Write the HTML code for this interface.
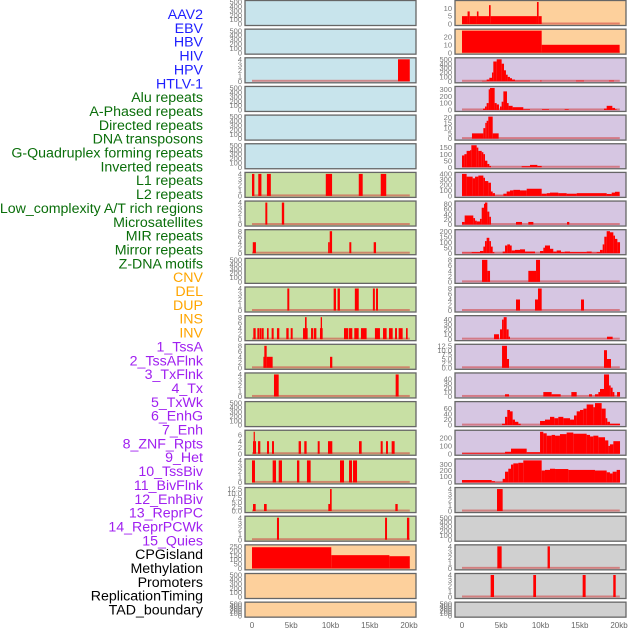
<!DOCTYPE html>
<html><head><meta charset="utf-8"><style>
html,body{margin:0;padding:0;background:#fff;width:630px;height:630px;overflow:hidden}
svg{display:block;font-family:"Liberation Sans",sans-serif}
</style></head><body>
<svg id="chart" width="630" height="630" viewBox="0 0 630 630"></svg>
<script>
const labels=["AAV2","EBV","HBV","HIV","HPV","HTLV-1","Alu repeats","A-Phased repeats","Directed repeats","DNA transposons","G-Quadruplex forming repeats","Inverted repeats","L1 repeats","L2 repeats","Low_complexity A/T rich regions","Microsatellites","MIR repeats","Mirror repeats","Z-DNA motifs","CNV","DEL","DUP","INS","INV","1_TssA","2_TssAFlnk","3_TxFlnk","4_Tx","5_TxWk","6_EnhG","7_Enh","8_ZNF_Rpts","9_Het","10_TssBiv","11_BivFlnk","12_EnhBiv","13_ReprPC","14_ReprPCWk","15_Quies","CPGisland","Methylation","Promoters","ReplicationTiming","TAD_boundary"];
const labelGroups=[0,0,0,0,0,0,1,1,1,1,1,1,1,1,1,1,1,1,1,2,2,2,2,2,3,3,3,3,3,3,3,3,3,3,3,3,3,3,3,4,4,4,4,4];
const xTicks=[0,5,10,15,20];
const xTickLabels=["0","5kb","10kb","15kb","20kb"];
const T500=[0,100,200,300,400,500], T4=[0,1,2,3,4], T8=[0,2,4,6,8], T6=[0,2,4,6], T125=[0,2.5,5,7.5,10,12.5];
const panelTicks=[T500,T500,T4,T500,T500,T500,T4,T4,T8,T500,T4,T8,T8,T4,T500,T6,T4,T125,T4,[0,50,100,150,200,250],T500,T500,
 [0,5,10],[0,10,20],T500,[0,100,200,300],[0,5,10,15,20],[0,50,100,150],[0,100,200,300,400],[0,20,40,60,80],[0,50,100,150,200],T8,T8,[0,10,20,30,40],T125,[0,10,20,30,40],[0,20,40,60],[0,100,200],[0,100,200,300],T4,T500,T4,T4,T500];
const panelSegments=[
 [],[],[[18.6,20.1,4]],[],[],[],
 [[0,0.3,4],[0.8,1.2,4],[1.9,2.4,4],[9.4,10.2,4],[13.6,14.1,4],[16.4,17.1,4]],
 [[1.7,1.95,4],[3.8,4.1,4]],
 [[0.1,0.5,4],[9.7,9.9,4],[9.9,10.2,8],[12.4,12.65,4],[15.5,15.8,4]],
 [],
 [[4.5,4.75,4],[10.4,10.7,4],[10.9,11.2,4],[13.1,13.6,4],[15.4,15.65,4],[15.8,16.05,4]],
 [[0.17,0.47,4],[0.68,0.93,4],[0.98,1.23,4],[1.27,1.49,4],[1.91,2.12,4],[2.5,2.76,4],[3.18,3.48,4],[4.37,4.67,4],[4.93,5.18,4],[6.5,7.09,4],[6.75,6.96,8],[7.52,7.77,4],[7.86,8.2,4],[8.66,9.0,4],[8.75,8.92,8],[11.72,12.27,4],[12.36,12.78,4],[13.03,13.59,4],[13.88,14.6,4],[15.66,16.3,4],[16.69,17.15,4],[17.45,17.92,4],[18.22,18.47,4],[18.68,19.19,4],[19.62,19.83,4]],
 [[1.45,1.57,4],[1.57,1.87,8],[1.87,2.63,4],[9.94,10.23,4]],
 [[2.8,3.4,4],[18.3,18.68,4]],
 [],
 [[0.13,0.21,4],[0.21,0.34,7],[0.34,0.51,4],[0.77,1.06,4],[1.91,2.17,4],[2.55,2.8,4],[5.94,6.24,4],[6.66,6.96,4],[8.37,8.62,4],[9.68,10.23,4],[13.63,13.97,4],[16.39,16.65,4],[17.07,17.32,4],[17.79,18.17,4]],
 [[0,0.38,4],[2.63,3.06,4],[3.4,3.82,4],[5.73,6.03,4],[7.0,7.47,4],[11.21,11.72,4],[12.36,12.74,4],[12.87,13.38,4]],
 [[0.13,0.47,4],[1.53,1.87,4],[9.72,9.94,4],[9.94,10.15,12.5],[18.26,18.56,4]],
 [[3.18,3.44,4],[16.95,17.2,4],[19.74,20.04,4]],
 [[0,10.1,240],[10.1,17.5,150],[17.5,20.1,138]],
 [],[],
 [[0,0.71,5],[0.71,0.98,8],[0.98,1.9,5],[1.9,2.1,8],[2.1,3.44,5],[3.44,3.65,12],[3.65,9.55,5],[9.55,9.76,14],[9.76,10.15,5]],
 [[0,10.15,28],[10.15,20.08,10]],
 [[2.55,3.14,10],[3.14,3.48,40],[3.48,3.82,80],[3.82,3.99,200],[3.99,4.42,450],[4.42,5.05,500],[5.05,5.35,400],[5.35,5.6,250],[5.6,5.82,150],[5.82,6.11,100],[6.11,6.37,70],[6.37,6.75,40],[6.75,8.66,15],[9.94,10.15,15],[14.52,15.54,15],[18.72,19.36,15]],
 [[2.68,2.93,20],[2.93,3.14,50],[3.14,3.4,100],[3.4,3.57,300],[3.57,4.16,320],[4.16,4.42,100],[4.42,4.71,80],[4.84,5.05,50],[5.05,5.27,120],[5.27,5.73,270],[5.73,5.94,100],[5.94,6.45,60],[6.45,7.81,40],[7.81,8.66,10],[10.19,11.08,10],[13.08,13.59,10],[18.09,18.43,20],[18.43,19.15,60],[19.15,19.49,30],[19.49,19.7,10]],
 [[1.27,2.72,5],[2.72,2.97,10],[2.97,3.14,15],[3.14,3.35,17],[3.35,3.91,21],[3.91,4.67,5]],
 [[0,0.3,90],[0.3,0.59,100],[0.59,1.02,125],[1.02,1.19,130],[1.19,1.87,168],[1.87,2.08,150],[2.08,2.51,125],[2.51,2.72,115],[2.72,2.93,100],[2.93,3.23,50],[3.23,3.48,25],[3.48,3.69,10],[7.6,8.66,8],[8.66,9.6,18],[9.6,10.15,10]],
 [[0,0.59,400],[0.59,1.36,350],[1.36,1.66,320],[1.66,2.08,350],[2.08,2.72,370],[2.72,2.93,330],[2.93,3.35,270],[3.35,3.69,240],[3.69,3.91,80],[3.91,4.2,50],[4.2,5.27,5],[5.27,5.69,40],[5.69,6.11,80],[6.11,6.54,100],[6.54,7.39,110],[7.39,8.24,100],[8.24,10.15,130],[10.15,10.79,40],[10.79,11.21,50],[11.21,12.27,60],[12.27,13.33,50],[13.33,14.61,40],[14.61,18.43,50],[18.43,19.07,35],[19.07,19.49,60],[19.49,20.08,75]],
 [[0,0.34,10],[0.34,1.44,35],[1.44,1.66,25],[1.66,1.87,15],[1.87,2.29,12],[2.29,2.51,22],[2.51,2.8,65],[2.8,2.93,80],[2.93,3.23,85],[3.23,3.48,50],[3.48,3.69,30],[6.88,7.64,10],[8.45,9.09,10],[13.38,13.67,10]],
 [[0,1.23,5],[1.23,2.29,10],[2.29,2.72,20],[2.72,2.93,60],[2.93,3.14,110],[3.14,3.48,140],[3.48,3.69,110],[3.69,3.91,60],[3.91,4.12,10],[5.18,5.48,15],[5.48,5.77,70],[5.77,6.11,80],[6.11,6.33,70],[6.33,6.75,25],[6.75,7.39,30],[7.39,8.03,35],[8.03,9.3,15],[9.94,10.36,20],[10.36,10.57,50],[10.57,11.21,70],[11.21,11.63,40],[11.63,12.06,15],[12.06,12.61,25],[12.61,13.08,10],[13.08,13.76,15],[13.76,15.88,10],[15.88,16.52,15],[16.52,17.15,5],[17.15,17.58,10],[17.58,17.92,30],[17.92,18.13,80],[18.13,18.43,150],[18.43,18.85,200],[18.85,19.28,190],[19.28,19.49,160],[19.49,19.79,130],[19.79,20.13,100]],
 [[2.55,3.23,8],[3.23,3.57,4],[8.45,9.43,4],[9.43,9.94,8]],
 [[6.88,7.39,4],[9.3,9.68,4],[9.68,10.15,8],[15.16,15.54,4]],
 [[4.08,4.71,10],[4.84,5.1,20],[5.1,5.31,40],[5.31,5.69,45],[5.69,5.94,20],[5.94,6.11,5],[18.47,19.19,5]],
 [[5.1,5.73,12.5],[5.73,5.99,5],[18.09,18.47,10],[18.47,18.98,5]],
 [[5.48,5.99,5],[10.36,11.42,10],[11.42,12.57,5],[13.93,14.61,10],[16.18,16.56,5],[16.94,17.37,5],[17.37,17.58,10],[17.58,18.09,17],[18.09,18.73,50],[18.73,18.94,25],[18.94,19.19,20],[19.19,19.41,10],[19.75,20.13,10]],
 [[5.1,5.48,5],[5.48,5.77,30],[5.77,6.11,55],[6.11,6.45,50],[6.45,6.75,20],[6.75,7.18,12],[7.18,7.47,5],[9.94,10.57,15],[10.57,11.21,20],[11.21,11.76,30],[11.76,12.27,25],[12.27,12.91,30],[12.91,13.76,25],[13.76,14.27,20],[14.27,14.61,35],[14.61,15.03,50],[15.03,15.46,55],[15.46,15.88,60],[15.88,16.73,75],[16.73,16.94,65],[16.94,17.79,80],[17.79,18.3,60],[18.3,18.51,25],[18.51,18.85,12],[18.85,20.13,5]],
 [[0,5.48,8],[5.48,6.24,25],[6.24,8.24,65],[8.24,9.94,20],[9.94,10.36,280],[10.36,10.79,260],[10.79,11.42,230],[11.42,11.85,240],[11.85,12.48,230],[12.48,13.33,250],[13.33,14.18,270],[14.18,15.88,255],[15.88,16.31,240],[16.31,16.73,220],[16.73,17.37,230],[17.37,18.22,210],[18.22,18.64,170],[18.64,18.85,100],[18.85,19.28,120],[19.28,20.13,160]],
 [[0,3.78,40],[3.78,4.2,20],[4.2,5.18,5],[5.18,5.48,60],[5.48,5.9,180],[5.9,6.24,230],[6.24,6.54,300],[6.54,7.18,320],[7.18,7.81,330],[7.81,10.15,370],[10.15,10.57,200],[10.57,11.21,210],[11.21,11.85,230],[11.85,13.55,225],[13.55,16.94,210],[16.94,18.43,200],[18.43,18.85,170],[18.85,19.19,150],[19.19,19.7,180],[19.7,20.13,210]],
 [[4.46,5.18,4]],
 [],
 [[4.5,5.05,4],[10.9,11.2,4]],
 [[3.65,4.08,4],[9.08,9.43,4],[15.37,15.75,4],[19.27,19.58,4]],
 []
];
const NS="http://www.w3.org/2000/svg";
const svg=document.getElementById('chart');
function mk(tag,attrs,parent){const e=document.createElementNS(NS,tag);for(const k in attrs)e.setAttribute(k,attrs[k]);(parent||svg).appendChild(e);return e;}
const groupColors=["#1e1eff","#0a6e0a","#ffa500","#a020f0","#000000"];
labels.forEach((t,k)=>{
  const el=mk('text',{x:203,y:15+k*13.85,'text-anchor':'end','dominant-baseline':'central','font-size':'14.2',fill:groupColors[labelGroups[k]]});
  el.textContent=t;
  
  
});
const bgCol1=i=> i<6?"#c8e4ec":(i<19?"#c8e0a4":"#fdd09c");
const bgCol2=i=> i<2?"#fdd09c":(i<17?"#d6c6e2":"#d0d0d0");
function xScale(col,kb){return (col===0?252:462)+kb*7.85;}
for(let p=0;p<44;p++){
  const col=p<22?0:1, row=p%22;
  const top=0.5+row*28.65, h=row===21?15:25;
  const left=col===0?245:455, w=171;
  const g=mk('g',{});
  
  
  mk('rect',{x:left,y:top,width:w,height:h,fill:col===0?bgCol1(row):bgCol2(row)},g);
  const ticks=panelTicks[p], segs=panelSegments[p];
  let ymax=ticks[ticks.length-1];
  segs.forEach(s=>{if(s[2]>ymax)ymax=s[2];});
  const y0=top+h-1.5, y1=top+1.5;
  const yS=v=>y0-(v/ymax)*(y0-y1);
  if(segs.length){
    mk('rect',{x:xScale(col,0),y:y0-1.5,width:xScale(col,20.1)-xScale(col,0),height:2,fill:"rgba(210,60,60,0.55)"},g);
  }
  segs.forEach(s=>{
    const b=mk('rect',{x:xScale(col,s[0]),y:yS(s[2]),width:Math.max(1.2,xScale(col,s[1])-xScale(col,s[0])),height:y0-yS(s[2]),fill:"#ff0000"},g);
    
    
  });
  mk('rect',{x:left,y:top,width:w,height:h,fill:"none",stroke:"#666",'stroke-width':1.3},g);
  ticks.forEach(t=>{
    const tl=mk('text',{x:left-3,y:yS(t)+2.6,'text-anchor':'end','font-size':'7.5',fill:"#777"},g);
    tl.textContent=String(ticks===T125?t.toFixed(1):t);
    
    
  });
}
[0,1].forEach(col=>{
  xTicks.forEach((v,i)=>{
    const t=mk('text',{x:xScale(col,v),y:628,'text-anchor':'middle','font-size':'8',fill:"#666"});
    t.textContent=xTickLabels[i];
    
    
  });
});
</script>
</body></html>
